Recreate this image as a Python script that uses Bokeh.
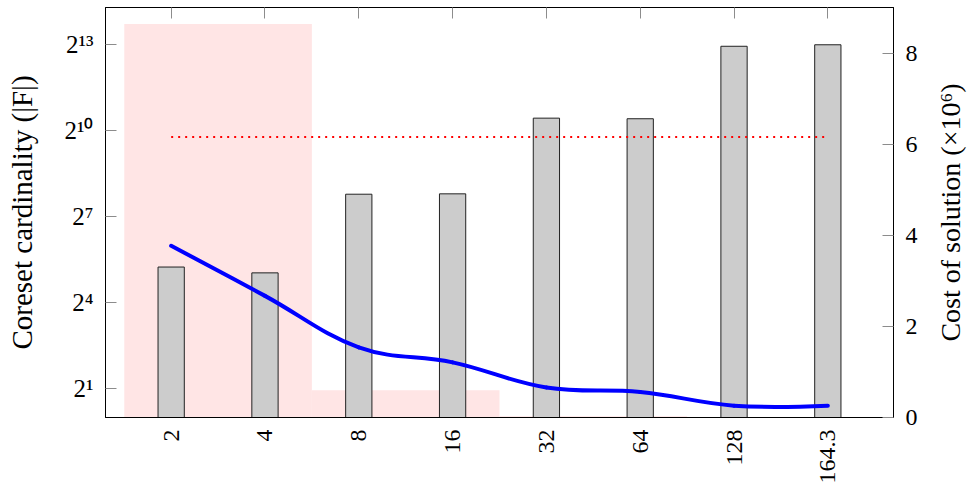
import math
from bokeh.plotting import figure
from bokeh.layouts import row
from bokeh.models import Range1d, LinearAxis, FixedTicker, LinearScale
from bokeh.embed import file_html
from bokeh.resources import INLINE

# ---- data ----
categories = ["2", "4", "8", "16", "32", "64", "128", "164.3"]
coreset_size = [38, 33, 221, 223, 1390, 1370, 7900, 8192]          # left, log2 axis
solution_cost = [3.77, 2.67, 1.54, 1.21, 0.66, 0.56, 0.26, 0.26]   # right axis (x10^6)
reference_cost = 6.16                                              # dotted red line
band_edges = [-0.5, 1.5, 3.5, 5.5]                                 # pink background bands
band_heights = [8.64, 0.6, 0.03]                                   # on right axis
left_ticks = [2, 16, 128, 1024, 8192]
left_tick_labels = ["2¹", "2⁴", "2⁷", "2¹⁰", "2¹³"]
right_ticks = [0, 2, 4, 6, 8]
left_title = "Coreset cardinality (|F|)"
right_title = "Cost of solution (×10⁶)"

FONT = "Liberation Serif"
TICK_GRAY = "#8c8c8c"
FRAME_W, FRAME_H = 788, 410
BORDER_L, BORDER_R, BORDER_T, BORDER_B = 105, 40, 7, 70
TITLE_W = 34
X_START, X_END = -0.7, len(categories) - 0.3
Y_LO, Y_HI = 1, 2 ** 14.3

xs = list(range(len(categories)))

p = figure(
    x_range=Range1d(X_START, X_END),
    y_range=Range1d(Y_LO, Y_HI),
    y_axis_type="log",
    frame_width=FRAME_W, frame_height=FRAME_H,
    min_border_left=BORDER_L, min_border_right=BORDER_R,
    min_border_top=BORDER_T, min_border_bottom=BORDER_B,
    output_backend="svg", toolbar_location=None,
    background_fill_color="white", border_fill_color="white",
)
p.extra_y_ranges = {"cost": Range1d(0, 9)}
p.extra_y_scales = {"cost": LinearScale()}
p.xgrid.visible = False
p.ygrid.visible = False
p.outline_line_color = "black"
p.outline_line_width = 1

# pink bands
p.quad(left=band_edges[:-1], right=band_edges[1:], bottom=0, top=band_heights,
       y_range_name="cost", fill_color="#FFE5E5", line_color=None)

# bars
p.vbar(x=xs, width=0.28, bottom=1, top=coreset_size,
       fill_color="#CCCCCC", line_color="#222222", line_width=1)

# reference dotted line
p.line(x=[xs[0], xs[-1]], y=[reference_cost, reference_cost], y_range_name="cost",
       line_color="red", line_width=2, line_dash="2 5")

# smooth cost curve (bezier through the data points)
k = 0.19
n = len(xs)
x0, y0, x1, y1, cx0, cy0, cx1, cy1 = [], [], [], [], [], [], [], []
for i in range(n - 1):
    xa, ya = xs[i], solution_cost[i]
    xb, yb = xs[i + 1], solution_cost[i + 1]
    if i == 0:
        ca = (xa, ya)
    else:
        ca = (xa + k * (xb - xs[i - 1]), ya + k * (yb - solution_cost[i - 1]))
    if i + 1 == n - 1:
        cb = (xb, yb)
    else:
        cb = (xb - k * (xs[i + 2] - xa), yb - k * (solution_cost[i + 2] - ya))
    x0.append(xa); y0.append(ya); x1.append(xb); y1.append(yb)
    cx0.append(ca[0]); cy0.append(ca[1]); cx1.append(cb[0]); cy1.append(cb[1])
p.bezier(x0=x0, y0=y0, x1=x1, y1=y1, cx0=cx0, cy0=cy0, cx1=cx1, cy1=cy1,
         y_range_name="cost", line_color="blue", line_width=4, line_cap="round")


def style_axis(ax):
    ax.major_tick_in = 11
    ax.major_tick_out = 0
    ax.major_tick_line_color = TICK_GRAY
    ax.minor_tick_line_color = None
    ax.axis_line_color = "black"
    ax.major_label_text_font = FONT
    ax.major_label_text_font_size = "24px"
    ax.major_label_text_color = "black"
    ax.axis_label_text_font = FONT
    ax.axis_label_text_font_size = "29px"
    ax.axis_label_text_font_style = "normal"
    ax.axis_label_text_color = "black"


# left axis
la = p.yaxis[0]
style_axis(la)
la.ticker = FixedTicker(ticks=left_ticks)
la.major_label_overrides = {t: s for t, s in zip(left_ticks, left_tick_labels)}
la.major_label_text_font_size = "25px"
la.major_label_standoff = 12
la.axis_label = left_title
la.axis_label_standoff = 24

# bottom axis
ba = p.xaxis[0]
style_axis(ba)
ba.ticker = FixedTicker(ticks=xs)
ba.major_label_overrides = {i: c for i, c in zip(xs, categories)}
ba.major_label_orientation = math.pi / 2
ba.major_tick_line_color = None
ba.major_label_standoff = 12

# top axis (ticks only)
ta = LinearAxis(ticker=FixedTicker(ticks=xs))
style_axis(ta)
ta.major_label_overrides = {i: "" for i in xs}
ta.major_label_standoff = 0
p.add_layout(ta, "above")

# right axis
ra = LinearAxis(y_range_name="cost", ticker=FixedTicker(ticks=right_ticks))
style_axis(ra)
ra.major_label_standoff = 12
p.add_layout(ra, "right")

# narrow strip holding the right-axis title, reading bottom-to-top
t = figure(
    x_range=Range1d(0, 1), y_range=Range1d(0, 1),
    frame_width=TITLE_W, frame_height=FRAME_H,
    min_border_left=0, min_border_right=0,
    min_border_top=BORDER_T, min_border_bottom=BORDER_B,
    x_axis_location=None, y_axis_location=None,
    output_backend="svg", toolbar_location=None,
    background_fill_color="white", border_fill_color="white",
)
t.xgrid.visible = False
t.ygrid.visible = False
t.outline_line_color = None
t.text(x=[0.5], y=[0.5], text=[right_title], angle=math.pi / 2,
       text_align="center", text_baseline="middle",
       text_font={"value": FONT}, text_font_size="28px", text_color="black")

layout = row(p, t, spacing=0)
open("out.html", "w").write(file_html(layout, INLINE))
